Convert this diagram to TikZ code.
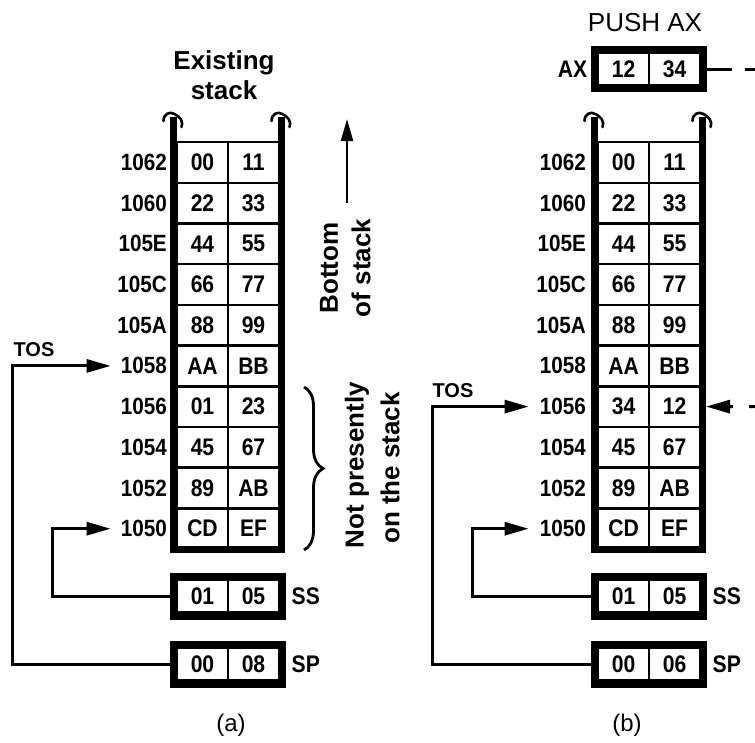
\documentclass[tikz,border=0pt]{standalone}
\usepackage{fontspec}
\setmainfont{Liberation Sans}
\newfontfamily\cellfont[FakeStretch=0.88]{Liberation Sans}
\usetikzlibrary{arrows.meta,fit,decorations.pathreplacing}
\begin{document}
\begin{tikzpicture}[x=1pt,y=-1pt,
  cell/.style={draw,line width=2.5pt,minimum width=51pt,minimum height=40.7pt,inner sep=0pt,outer sep=0pt,
    font=\cellfont\bfseries\fontsize{24}{24}\selectfont},
  rcell/.style={cell,minimum height=33pt},
  adr/.style={anchor=east,inner sep=0pt,font=\cellfont\bfseries\fontsize{23.5}{23.5}\selectfont},
  reglab/.style={inner sep=0pt,font=\cellfont\bfseries\fontsize{24}{24}\selectfont},
  regframe/.style={draw,line width=7pt,inner sep=3.5pt,outer sep=0pt},
  stackframe/.style={line width=7pt,line cap=butt,line join=miter},
  brk/.pic={\draw[line width=2.6pt,line cap=round] (-10,4) .. controls (-10,-3) and (-4,-6) .. (1,-3) .. controls (6,0) and (10,3) .. (8,10);},
  conn/.style={line width=3pt,-{Triangle[length=24pt,width=13pt]}},
  title/.style={inner sep=0pt,font=\bfseries\fontsize{26}{30}\selectfont,align=center},
  sidelab/.style={inner sep=0pt,rotate=90,font=\bfseries\fontsize{26}{26}\selectfont},
  caption/.style={inner sep=0pt,font=\fontsize{24}{24}\selectfont}
]
\useasboundingbox (0,0) rectangle (755,742);

% ---------- (a) ----------
\node[title] (exist) at (224,75) {Existing\\stack};
\draw[stackframe] (173.5,117) -- (173.5,549.5) -- (281.5,549.5) -- (281.5,117);
\pic at (173.5,117) {brk};
\pic at (281.5,117) {brk};
\foreach \ad/\l/\r [count=\i from 0] in {1062/00/11,1060/22/33,105E/44/55,105C/66/77,105A/88/99,1058/AA/BB,1056/01/23,1054/45/67,1052/89/AB,1050/CD/EF}{
  \node[cell] (aL\i) at (202.5,{162.4+40.7*\i}) {\l};
  \node[cell] (aR\i) at (253.5,{162.4+40.7*\i}) {\r};
  \node[adr] (aA\i) at (167,{162.4+40.7*\i}) {\ad};
}
\node[rcell] (ssAl) at (202.5,596) {01};
\node[rcell] (ssAr) at (253.5,596) {05};
\node[regframe,fit=(ssAl)(ssAr)] (ssA) {};
\node[reglab,anchor=west] (ssAt) at ([xshift=9pt]ssA.east) {SS};
\node[rcell] (spAl) at (202.5,664) {00};
\node[rcell] (spAr) at (253.5,664) {08};
\node[regframe,fit=(spAl)(spAr)] (spA) {};
\node[reglab,anchor=west] (spAt) at ([xshift=9pt]spA.east) {SP};

\node[inner sep=0pt,font=\bfseries\fontsize{20}{20}\selectfont] (tosA) at (34,350) {TOS};
\coordinate (cTOSa) at (12,500);
\coordinate (cSSa) at (52,560);
\draw[conn] (spA.west) -| (cTOSa) |- ([xshift=-10pt]aA5.west);
\draw[conn] (ssA.west) -| (cSSa) |- ([xshift=-10pt]aA9.west);

\coordinate (botT) at (347,203);
\coordinate (botH) at (347,119);
\draw[line width=2.2pt,-{Triangle[length=22pt,width=12pt]}] (botT) -- (botH);
\node[sidelab] (bot1) at (329,268) {Bottom};
\node[sidelab] (bot2) at (361,268) {of stack};

\coordinate (brT) at (304,387);
\coordinate (brB) at (304,550);
\draw[line width=2.8pt,decorate,decoration={brace,amplitude=19pt,aspect=0.5}] (brT) -- (brB);
\node[sidelab] (np1) at (357,465) {Not presently};
\node[sidelab] (np2) at (390,468) {on the stack};

\node[caption] (capA) at (231,725) {(a)};

% ---------- (b) ----------
\node[inner sep=0pt,font=\fontsize{26}{26}\selectfont] (push) at (645,23) {PUSH AX};
\node[rcell,minimum height=32pt] (axl) at (623.5,69) {12};
\node[rcell,minimum height=32pt] (axr) at (674.5,69) {34};
\node[regframe,fit=(axl)(axr)] (ax) {};
\node[reglab,anchor=east] (axt) at ([xshift=-7pt]ax.west) {AX};

\draw[stackframe] (594.5,117) -- (594.5,549.5) -- (702.5,549.5) -- (702.5,117);
\pic at (594.5,117) {brk};
\pic at (702.5,117) {brk};
\foreach \ad/\l/\r [count=\i from 0] in {1062/00/11,1060/22/33,105E/44/55,105C/66/77,105A/88/99,1058/AA/BB,1056/34/12,1054/45/67,1052/89/AB,1050/CD/EF}{
  \node[cell] (bL\i) at (623.5,{162.4+40.7*\i}) {\l};
  \node[cell] (bR\i) at (674.5,{162.4+40.7*\i}) {\r};
  \node[adr] (bA\i) at (586,{162.4+40.7*\i}) {\ad};
}
\node[rcell] (ssBl) at (623.5,596) {01};
\node[rcell] (ssBr) at (674.5,596) {05};
\node[regframe,fit=(ssBl)(ssBr)] (ssB) {};
\node[reglab,anchor=west] (ssBt) at ([xshift=9pt]ssB.east) {SS};
\node[rcell] (spBl) at (623.5,664) {00};
\node[rcell] (spBr) at (674.5,664) {06};
\node[regframe,fit=(spBl)(spBr)] (spB) {};
\node[reglab,anchor=west] (spBt) at ([xshift=9pt]spB.east) {SP};

\node[inner sep=0pt,font=\bfseries\fontsize{20}{20}\selectfont] (tosB) at (453,391) {TOS};
\coordinate (cTOSb) at (432,550);
\coordinate (cSSb) at (472,560);
\draw[conn] (spB.west) -| (cTOSb) |- ([xshift=-11pt]bA6.west);
\draw[conn] (ssB.west) -| (cSSb) |- ([xshift=-11pt]bA9.west);

\node[caption] (capB) at (627,725) {(b)};

\coordinate (axOut) at (756,69);
\coordinate (axIn) at (756,406.6);
\draw[line width=3pt,dash pattern=on 28pt off 13pt] (ax.east) -- (axOut);
\draw[line width=3pt,dash pattern=on 7pt off 16pt on 80pt,-{Triangle[length=24pt,width=13pt]}] (axIn) -- ([xshift=6pt]bR6.east);
\end{tikzpicture}
\end{document}
